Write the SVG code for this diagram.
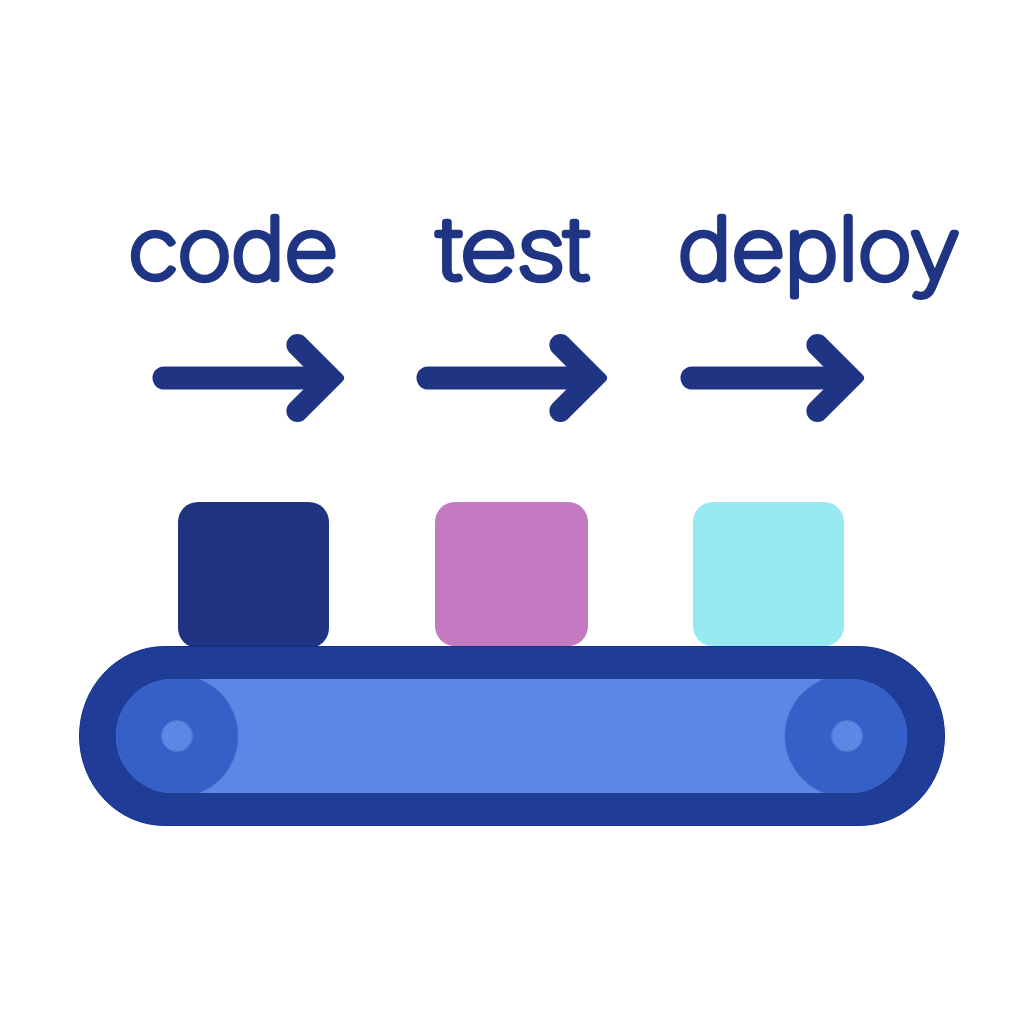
<svg xmlns="http://www.w3.org/2000/svg" width="1024" height="1024" viewBox="0 0 1024 1024">
<defs>
<clipPath id="band"><rect x="116" y="679" width="791" height="114" rx="57" ry="57"/></clipPath>
<path id="head" d="M-40.820 -40.780L-3.540 -3.540Q0 0 -3.540 3.540L-40.820 40.780A11 11 0 0 1 -56.380 25.220L-31.160 0L-56.380 -25.220A11 11 0 0 1 -40.820 -40.780Z"/>
</defs>
<style>
.lbl{font-family:"Inter","Noto Sans",sans-serif;font-size:85px;fill:#1f3483;stroke:#1f3483;stroke-width:6.500px;stroke-linejoin:round;font-weight:100}
.shaft{fill:none;stroke:#1f3483;stroke-width:23px;stroke-linecap:round}
.head{fill:#1f3483}
.hub{fill:#3460c8;stroke:#4169cf;stroke-width:1px}
.pin{fill:#5d87e4;stroke:#4f79db;stroke-width:1px}
</style>
<rect width="1024" height="1024" fill="#fff"/>
<g id="label-code"><text class="lbl" x="233" y="279" text-anchor="middle" textLength="209" lengthAdjust="spacingAndGlyphs">code</text></g>
<g id="label-test"><text class="lbl" x="513" y="279" text-anchor="middle" textLength="151" lengthAdjust="spacingAndGlyphs">test</text></g>
<g id="label-deploy"><text class="lbl" x="819" y="279" text-anchor="middle" textLength="282" lengthAdjust="spacingAndGlyphs">deploy</text></g>
<g id="connectors">
<path class="shaft" d="M164 378H325"/><use class="head" href="#head" x="346" y="378"/>
<path class="shaft" d="M428 378H588"/><use class="head" href="#head" x="609" y="378"/>
<path class="shaft" d="M692 378H845"/><use class="head" href="#head" x="866" y="378"/>
</g>
<g id="box-code"><rect x="178" y="502" width="151" height="146" rx="20" fill="#1f3380"/></g>
<g id="box-test"><rect x="435" y="502" width="153" height="144" rx="20" fill="#c47ac0"/></g>
<g id="box-deploy"><rect x="693" y="502" width="151" height="144" rx="20" fill="#96e9f0"/></g>
<g id="conveyor">
<rect x="79.500" y="646.500" width="865" height="179" rx="85" ry="89.500" fill="#1f3d96" stroke="#12308f" stroke-width="1"/>
<rect x="116" y="679" width="791" height="114" rx="57" ry="57" fill="#5c87e4"/>
<g clip-path="url(#band)">
<circle class="hub" cx="177" cy="736" r="61"/>
<circle class="hub" cx="846" cy="736" r="61"/>
</g>
<circle class="pin" cx="177" cy="736" r="15.500"/>
<circle class="pin" cx="847" cy="736" r="15.500"/>
</g>
</svg>
